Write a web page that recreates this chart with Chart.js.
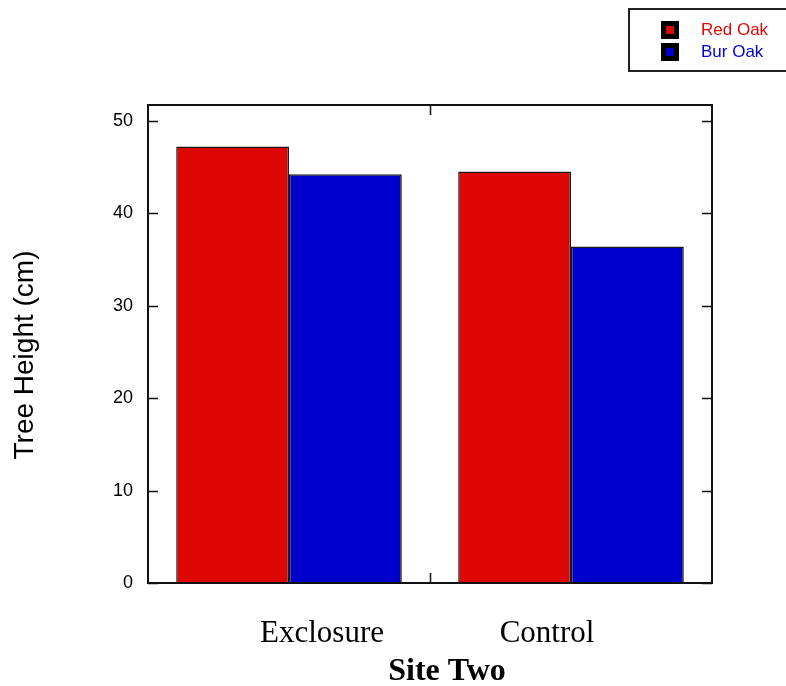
<!DOCTYPE html>
<html>
<head>
<meta charset="utf-8">
<script src="https://cdn.jsdelivr.net/npm/chart.js@4/dist/chart.umd.min.js"></script>
<style>
  body { margin: 0; background: #fff; }
  canvas { display: block; }
</style>
</head>
<body>
<canvas id="myChart" width="786" height="686"></canvas>
<script>
// data
const categories = ['Exclosure', 'Control'];
const seriesNames = ['Red Oak', 'Bur Oak'];
const redOak = [47.2, 44.5];
const burOak = [44.2, 36.4];
const yTicks = [0, 10, 20, 30, 40, 50];
const yMax = 51.7;

const colors = ['#dd0806', '#0000cd'];
const serif = '"Liberation Serif", "Times New Roman", serif';
const sans = '"Liberation Sans", Arial, sans-serif';

/**
 * Frame around the plot with inward tick marks
 */
const framePlugin = {
    id: 'frame',
    afterDatasetsDraw(chart) {
        let ctx = chart.ctx;
        let area = chart.chartArea;
        let y = chart.scales.y;
        let x = chart.scales.x;

        ctx.save();
        ctx.strokeStyle = '#111';
        ctx.lineWidth = 2;
        ctx.strokeRect(area.left, area.top, area.right - area.left, area.bottom - area.top);

        ctx.lineWidth = 1.5;
        ctx.beginPath();
        for (let v of yTicks) {
            let py = Math.round(y.getPixelForValue(v)) + 0.5;
            ctx.moveTo(area.left, py);
            ctx.lineTo(area.left + 10, py);
            ctx.moveTo(area.right, py);
            ctx.lineTo(area.right - 10, py);
        }
        // boundary between the two categories
        for (let i = 1; i < categories.length; i++) {
            let px = Math.round((x.getPixelForValue(i - 1) + x.getPixelForValue(i)) / 2) + 0.5;
            ctx.moveTo(px, area.top);
            ctx.lineTo(px, area.top + 10);
            ctx.moveTo(px, area.bottom);
            ctx.lineTo(px, area.bottom - 10);
        }
        ctx.stroke();
        ctx.restore();
    }
};

/**
 * Category labels and axis titles, placed like the original
 */
const labelPlugin = {
    id: 'axisText',
    afterDraw(chart) {
        let ctx = chart.ctx;
        let area = chart.chartArea;
        let x = chart.scales.x;
        let labelShift = [33, -24];

        ctx.save();
        ctx.fillStyle = '#000';
        ctx.textAlign = 'center';
        ctx.textBaseline = 'alphabetic';

        ctx.font = '31px ' + serif;
        categories.forEach(function (c, i) {
            ctx.fillText(c, x.getPixelForValue(i) + labelShift[i], area.bottom + 59);
        });

        ctx.font = 'bold 32px ' + serif;
        ctx.fillText('Site Two', (area.left + area.right) / 2 + 17, area.bottom + 97);

        ctx.translate(33, 355);
        ctx.rotate(-Math.PI / 2);
        ctx.font = '28px ' + sans;
        ctx.fillText('Tree Height (cm)', 0, 0);
        ctx.restore();
    }
};

/**
 * Boxed legend in the top right corner
 */
const legendPlugin = {
    id: 'boxLegend',
    afterDraw(chart) {
        let ctx = chart.ctx;
        ctx.save();
        ctx.strokeStyle = '#222';
        ctx.lineWidth = 2;
        ctx.strokeRect(629, 9, 200, 62);

        ctx.font = '17px ' + sans;
        ctx.textBaseline = 'middle';
        chart.data.datasets.forEach(function (ds, i) {
            let top = 21 + i * 22;
            ctx.fillStyle = '#000';
            ctx.fillRect(661, top, 18, 18);
            ctx.fillStyle = ds.backgroundColor;
            ctx.fillRect(666, top + 5, 8, 8);
            ctx.fillText(ds.label, 701, top + 9);
        });
        ctx.restore();
    }
};

let data = {
    labels: categories,
    datasets: [{
        label: seriesNames[0],
        data: redOak,
        backgroundColor: colors[0],
        borderColor: '#1a1a1a',
        borderWidth: 1.5
    }, {
        label: seriesNames[1],
        data: burOak,
        backgroundColor: colors[1],
        borderColor: '#1a1a1a',
        borderWidth: 1.5
    }]
};

let options = {
    responsive: false,
    animation: false,
    layout: {
        padding: { left: 0, right: 74, top: 105, bottom: 0 }
    },
    plugins: {
        legend: { display: false },
        tooltip: { enabled: false }
    },
    datasets: {
        bar: { categoryPercentage: 0.8, barPercentage: 1.0 }
    },
    scales: {
        x: {
            grid: { display: false },
            border: { display: false },
            ticks: { display: false },
            afterFit: function (scale) { scale.height = 103; }
        },
        y: {
            min: 0,
            max: yMax,
            grid: { display: false },
            border: { display: false },
            afterBuildTicks: function (scale) {
                scale.ticks = yTicks.map(function (v) { return { value: v }; });
            },
            ticks: {
                color: '#000',
                padding: 7,
                font: { family: sans, size: 18 }
            },
            afterFit: function (scale) { scale.width = 148; }
        }
    }
};

let ctx = document.getElementById('myChart').getContext('2d');
let chart = new Chart(ctx, {
    type: 'bar',
    data: data,
    options: options,
    plugins: [framePlugin, labelPlugin, legendPlugin]
});
</script>
</body>
</html>
